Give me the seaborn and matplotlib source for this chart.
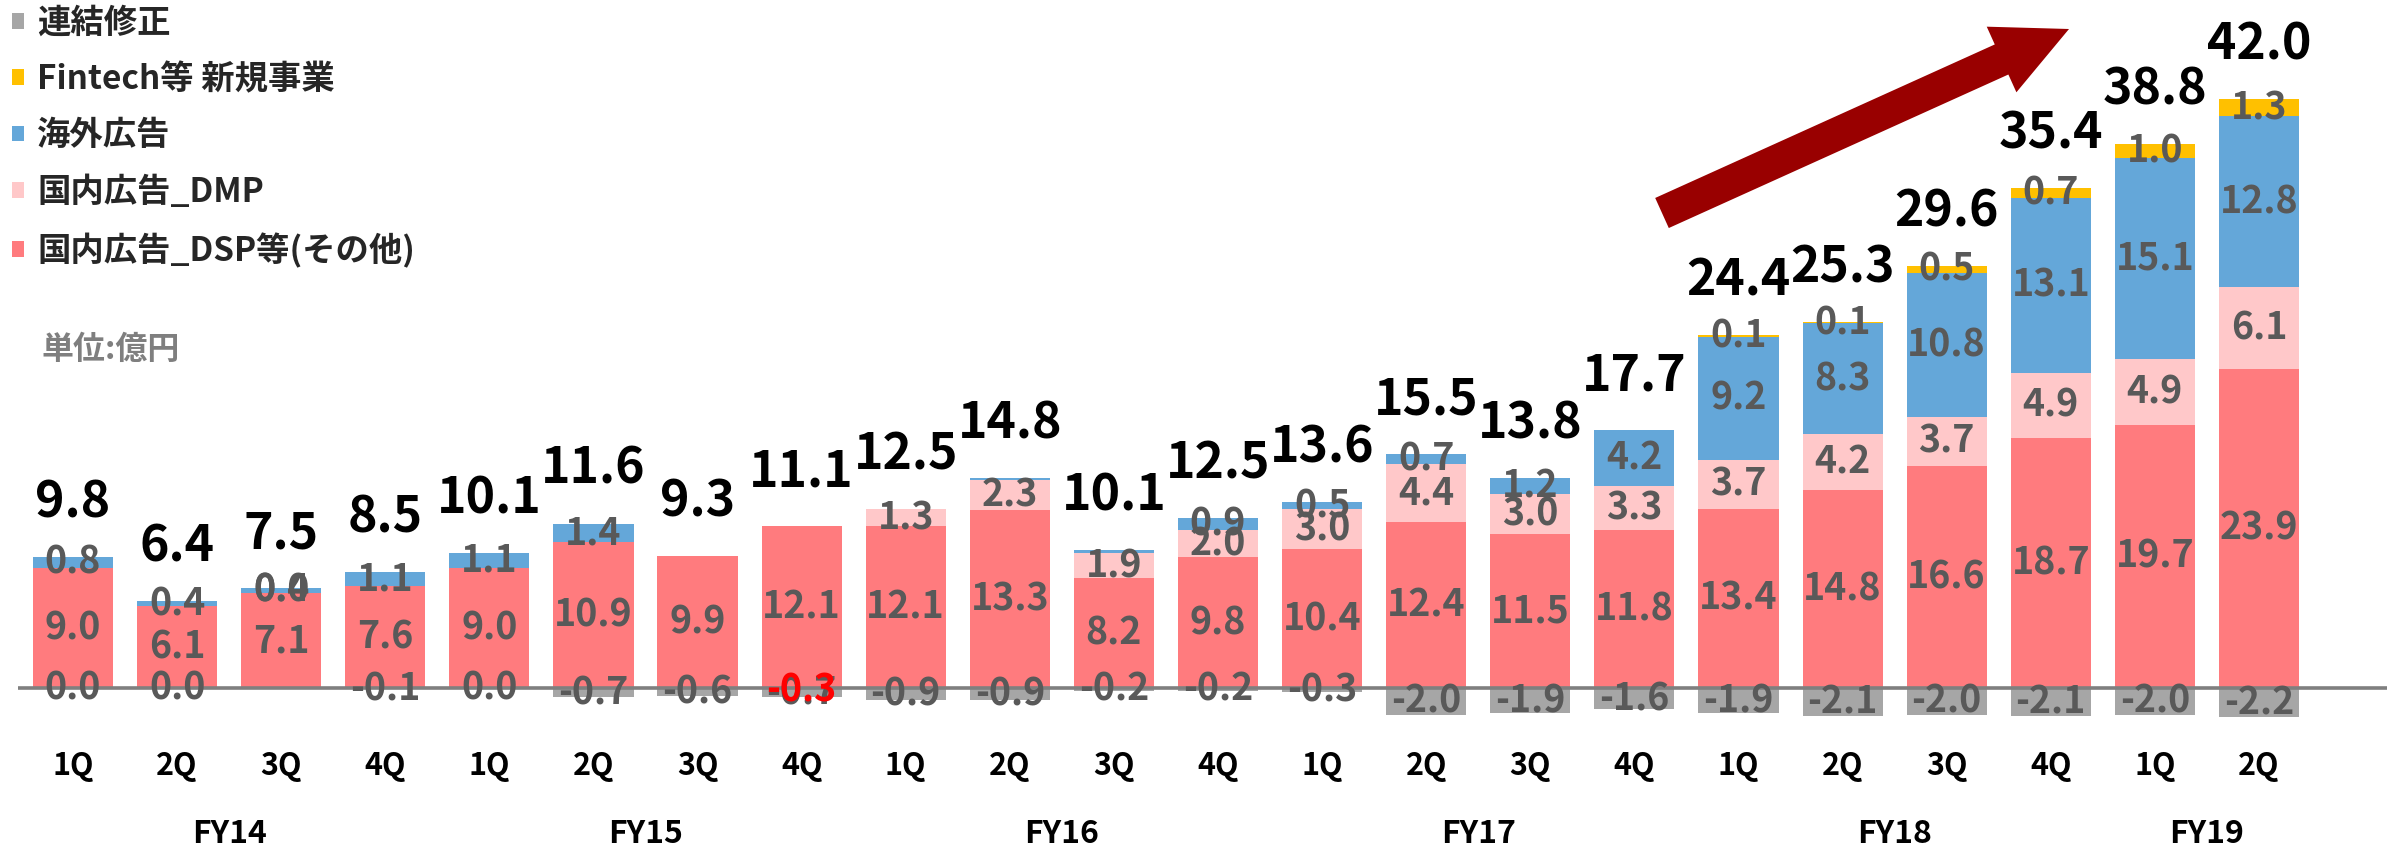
import matplotlib
matplotlib.use("Agg")
import matplotlib.pyplot as plt
from matplotlib.patches import FancyArrow
from matplotlib.transforms import IdentityTransform
import seaborn as sns
import numpy as np
import pandas as pd

# quarterly revenue (unit: 100 million yen)
quarters = ["1Q", "2Q", "3Q", "4Q", "1Q", "2Q", "3Q", "4Q", "1Q", "2Q", "3Q", "4Q",
            "1Q", "2Q", "3Q", "4Q", "1Q", "2Q", "3Q", "4Q", "1Q", "2Q"]
years = ["FY14"] * 4 + ["FY15"] * 4 + ["FY16"] * 4 + ["FY17"] * 4 + ["FY18"] * 4 + ["FY19"] * 2

dsp = [9.0, 6.1, 7.1, 7.6, 9.0, 10.9, 9.9, 12.1, 12.1, 13.3, 8.2, 9.8,
       10.4, 12.4, 11.5, 11.8, 13.4, 14.8, 16.6, 18.7, 19.7, 23.9]
dmp = [0, 0, 0, 0, 0, 0, 0, 0, 1.3, 2.3, 1.9, 2.0,
       3.0, 4.4, 3.0, 3.3, 3.7, 4.2, 3.7, 4.9, 4.9, 6.1]
overseas = [0.8, 0.4, 0.4, 1.1, 1.1, 1.4, 0, 0, 0, 0.1, 0.2, 0.9,
            0.5, 0.7, 1.2, 4.2, 9.2, 8.3, 10.8, 13.1, 15.1, 12.8]
fintech = [0, 0, 0, 0, 0, 0, 0, 0, 0, 0, 0, 0,
           0, 0, 0, 0, 0.1, 0.1, 0.5, 0.7, 1.0, 1.3]
adjust = [0.0, 0.0, np.nan, -0.1, 0.0, -0.7, -0.6, -0.7, -0.9, -0.9, -0.2, -0.2,
          -0.3, -2.0, -1.9, -1.6, -1.9, -2.1, -2.0, -2.1, -2.0, -2.2]
totals = [9.8, 6.4, 7.5, 8.5, 10.1, 11.6, 9.3, 11.1, 12.5, 14.8, 10.1, 12.5,
          13.6, 15.5, 13.8, 17.7, 24.4, 25.3, 29.6, 35.4, 38.8, 42.0]

# overseas slivers that carry no label in the source
overseas_unlabeled = [9, 10]
# stray labels in the source
extra_overseas_label = (2, "0.0")
extra_adjust_label = (7, "-0.3", -0.3)

names = ["国内広告_DSP等(その他)", "国内広告_DMP", "海外広告", "Fintech等 新規事業", "連結修正"]
colors = ["#FF7B7E", "#FFC8C9", "#64A7D9", "#FFC000", "#A6A6A6"]

sns.set_theme(style="white")
plt.rcParams["font.family"] = ["Noto Sans CJK JP", "DejaVu Sans"]
plt.rcParams["font.weight"] = "bold"

fig = plt.figure(figsize=(23.87, 8.48), dpi=100)
ax = fig.add_axes([0, 0, 1, 1])

cats = [f"{y} {q}" for y, q in zip(years, quarters)]
df = pd.DataFrame({"cat": cats, "dsp": dsp, "dmp": dmp, "overseas": overseas,
                   "fintech": fintech, "adjust": np.nan_to_num(adjust)})

stack = ["dsp", "dmp", "overseas", "fintech"]
bottom = np.zeros(len(df))
bottoms = {}
for key, name, col in zip(stack, names, colors):
    bottoms[key] = bottom.copy()
    sns.barplot(data=df, x="cat", y=key, order=cats, bottom=bottom, color=col,
                saturation=1, width=0.77, linewidth=0, errorbar=None, ax=ax, label=name)
    bottom = bottom + df[key].to_numpy()
sns.barplot(data=df, x="cat", y="adjust", order=cats, color=colors[4], saturation=1,
            width=0.77, linewidth=0, errorbar=None, ax=ax, label=names[4])

pos_top = bottom
n = len(cats)
xs = np.arange(n)

ax.set_xlim(-0.701, 22.23)
ax.set_ylim(-11.98, 51.5)
ax.axis("off")

ax.plot([-0.53, 22.3], [0, 0], color="#7F7F7F", lw=2.6, zorder=3, solid_capstyle="butt")

lab_kw = dict(ha="center", va="center", color="#595959", fontsize=27, fontweight="bold", zorder=5)
for key in stack:
    vals = df[key].to_numpy()
    for i in range(n):
        if vals[i] == 0:
            continue
        if key == "overseas" and i in overseas_unlabeled:
            continue
        ax.text(xs[i], bottoms[key][i] + vals[i] / 2, f"{vals[i]:.1f}", **lab_kw)
for i, v in enumerate(adjust):
    if np.isnan(v):
        continue
    ax.text(xs[i], v / 2, f"{v:.1f}", **lab_kw)

i, t = extra_overseas_label
ax.text(xs[i], bottoms["overseas"][i] + overseas[i] / 2, t, **lab_kw)
i, t, v = extra_adjust_label
ax.text(xs[i], v / 2, t, **{**lab_kw, "color": "#FF0000"})

for i in range(n):
    ax.annotate(f"{totals[i]:.1f}", (xs[i], pos_top[i]), xytext=(0, 39),
                textcoords="offset points", ha="center", va="center",
                fontsize=36, fontweight="bold", color="black")

for i in range(n):
    ax.text(xs[i], -5.84, quarters[i], ha="center", va="center", fontsize=22,
            fontweight="bold", color="black")
centers = pd.Series(xs).groupby(pd.Series(years)).mean()
for fy, cx in centers.items():
    ax.text(cx, -10.93, fy, ha="center", va="center", fontsize=23,
            fontweight="bold", color="black")

handles, labels = ax.get_legend_handles_labels()
fig.legend(handles[::-1], labels[::-1], loc="upper left", bbox_to_anchor=(0.005, 0.992),
           frameon=False, fontsize=24, handlelength=0.36, handleheight=0.36,
           handletextpad=0.4, labelspacing=0.7, borderpad=0, borderaxespad=0)
if ax.get_legend() is not None:
    ax.get_legend().remove()

fig.text(41 / 2387, 1 - 350 / 848, "単位:億円", ha="left", va="center", fontsize=23,
         fontweight="bold", color="#7F7F7F")

arrow = FancyArrow(1662, 848 - 213, 407, 184, width=33, head_width=72, head_length=74,
                   length_includes_head=True, color="#990000", lw=0,
                   transform=IdentityTransform())
fig.patches.append(arrow)

fig.savefig("out.png", dpi=100)
